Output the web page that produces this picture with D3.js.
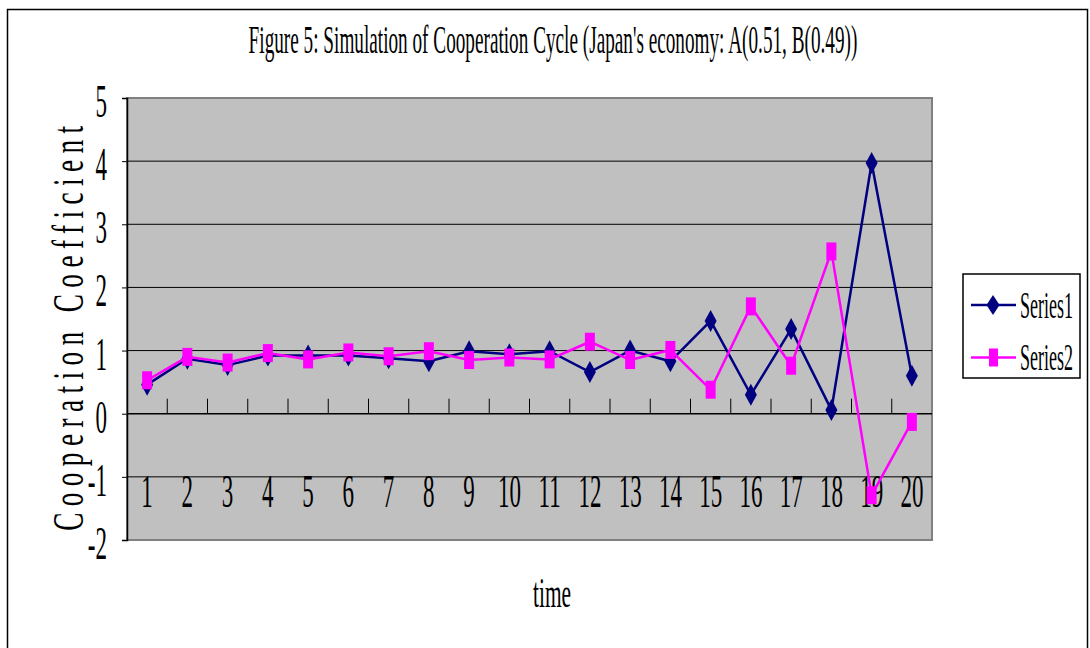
<!DOCTYPE html>
<html>
<head>
<meta charset="utf-8">
<script src="https://cdn.jsdelivr.net/npm/d3@7"></script>
<style>
  html, body { margin: 0; padding: 0; background: #fff; }
  svg { display: block; }
  text { font-family: "Liberation Serif", "Times New Roman", serif; fill: #000; }
</style>
</head>
<body>
<svg id="chart" width="1090" height="648"></svg>
<script>
const categories = ["1","2","3","4","5","6","7","8","9","10","11","12","13","14","15","16","17","18","19","20"];
const series1 = [0.46, 0.87, 0.77, 0.92, 0.92, 0.92, 0.88, 0.83, 0.99, 0.94, 0.99, 0.66, 1.00, 0.83, 1.47, 0.30, 1.34, 0.06, 3.97, 0.60];
const series2 = [0.53, 0.90, 0.81, 0.96, 0.86, 0.97, 0.91, 0.99, 0.85, 0.89, 0.86, 1.14, 0.85, 1.01, 0.38, 1.70, 0.76, 2.57, -1.29, -0.13];
const seriesNames = ["Series1", "Series2"];
const yTicks = [-2, -1, 0, 1, 2, 3, 4, 5];
const titleText = "Figure 5: Simulation of Cooperation Cycle (Japan's economy: A(0.51, B(0.49))";
const yTitle = "Cooperation Coefficient";
const xTitle = "time";

const svg = d3.select("#chart");
const plot = { left: 127, right: 932, top: 98, bottom: 540 };

const x = d3.scaleBand().domain(categories).range([plot.left, plot.right]);
const y = d3.scaleLinear().domain([-2, 5]).range([plot.bottom, plot.top]);

// place a text horizontally condensed so that it spans targetWidth
function fitText(sel, xPos, yPos, targetWidth, anchor) {
  const w = sel.node().getComputedTextLength();
  const k = targetWidth / w;
  sel.attr("text-anchor", anchor || "start")
     .attr("transform", `translate(${xPos},${yPos}) scale(${k},1)`);
  return sel;
}

// outer border
svg.append("rect").attr("x", 7.5).attr("y", 9.5).attr("width", 1080).attr("height", 700)
  .attr("fill", "none").attr("stroke", "#000").attr("stroke-width", 1.5);

// title
fitText(svg.append("text").attr("font-size", 39).text(titleText), 553, 53, 609, "middle");

// plot area
svg.append("rect").attr("x", plot.left).attr("y", plot.top)
  .attr("width", plot.right - plot.left).attr("height", plot.bottom - plot.top)
  .attr("fill", "#c0c0c0").attr("stroke", "#808080").attr("stroke-width", 2);

// gridlines
svg.append("g").selectAll("line").data(yTicks.filter(v => v !== 0 && v !== 5 && v !== -2)).join("line")
  .attr("x1", plot.left).attr("x2", plot.right)
  .attr("y1", d => y(d)).attr("y2", d => y(d))
  .attr("stroke", "#000").attr("stroke-width", 1);

// y axis
const yAxis = d3.axisLeft(y).tickValues(yTicks).tickSize(5).tickFormat("");
const gy = svg.append("g").attr("transform", `translate(${plot.left},0)`).call(yAxis);
gy.select(".domain").attr("stroke", "#000").attr("stroke-width", 1.5);
gy.selectAll(".tick line").attr("stroke", "#000").attr("stroke-width", 1);

// y tick labels (condensed)
svg.append("g").selectAll("text").data(yTicks).join("text")
  .attr("transform", d => `translate(107,${y(d) + 19}) scale(0.5,1)`)
  .attr("text-anchor", "end").attr("font-size", 46)
  .text(d => String(d));

// x axis line at 0
svg.append("line").attr("x1", plot.left).attr("x2", plot.right)
  .attr("y1", y(0)).attr("y2", y(0)).attr("stroke", "#000").attr("stroke-width", 1.5);

// x ticks between categories, pointing up
const boundaries = categories.map(c => x(c) + x.bandwidth()).slice(0, -1);
svg.append("g").selectAll("line").data(boundaries).join("line")
  .attr("x1", d => d).attr("x2", d => d)
  .attr("y1", y(0)).attr("y2", y(0) - 15)
  .attr("stroke", "#000").attr("stroke-width", 1);

// x tick labels
svg.append("g").selectAll("text").data(categories).join("text")
  .attr("transform", d => `translate(${x(d) + x.bandwidth() / 2},507) scale(0.5,1)`)
  .attr("text-anchor", "middle").attr("font-size", 46)
  .text(d => d);

// y axis title: glyphs condensed along the text direction, wide letter spacing
const yt = svg.append("text").attr("font-size", 44).attr("letter-spacing", 0).text(yTitle);
{
  const k = 0.62;
  const n = yTitle.length;
  const natural = yt.node().getComputedTextLength();
  const spacing = (405 / k - natural) / (n - 1);
  yt.attr("letter-spacing", spacing).attr("text-anchor", "middle")
    .attr("transform", `translate(83,${322 + spacing * k / 2}) rotate(-90) scale(${k},1)`);
}

// x axis title
fitText(svg.append("text").attr("font-size", 42).text(xTitle), 552, 607, 38, "middle");

// series
const cx = d => x(d) + x.bandwidth() / 2;
const line = d3.line().x((d, i) => cx(categories[i])).y(d => y(d));
const diamond = "M0,-11L6,0L0,11L-6,0Z";

const g1 = svg.append("g");
g1.append("path").datum(series1).attr("d", line)
  .attr("fill", "none").attr("stroke", "#000080").attr("stroke-width", 2.5);
g1.selectAll("path.m").data(series1).join("path").attr("class", "m")
  .attr("d", diamond)
  .attr("transform", (d, i) => `translate(${cx(categories[i])},${y(d)})`)
  .attr("fill", "#000080");

const g2 = svg.append("g");
g2.append("path").datum(series2).attr("d", line)
  .attr("fill", "none").attr("stroke", "#ff00ff").attr("stroke-width", 2.5);
g2.selectAll("rect").data(series2).join("rect")
  .attr("x", (d, i) => cx(categories[i]) - 5).attr("y", d => y(d) - 9)
  .attr("width", 10).attr("height", 18)
  .attr("fill", "#ff00ff");

// legend
const lg = svg.append("g");
lg.append("rect").attr("x", 963).attr("y", 274).attr("width", 117).attr("height", 104)
  .attr("fill", "#fff").attr("stroke", "#000").attr("stroke-width", 1.5);
const legendY = [305, 357.5];
const legendBase = [318, 370];
const colors = ["#000080", "#ff00ff"];
seriesNames.forEach((name, i) => {
  lg.append("line").attr("x1", 971).attr("x2", 1016).attr("y1", legendY[i]).attr("y2", legendY[i])
    .attr("stroke", colors[i]).attr("stroke-width", 2.5);
  if (i === 0) {
    lg.append("path").attr("d", "M0,-10L6.5,0L0,10L-6.5,0Z")
      .attr("transform", `translate(993,${legendY[i]})`).attr("fill", colors[i]);
  } else {
    lg.append("rect").attr("x", 989).attr("y", legendY[i] - 9).attr("width", 9).attr("height", 18)
      .attr("fill", colors[i]);
  }
  fitText(lg.append("text").attr("font-size", 38).text(name), 1020, legendBase[i], 53, "start");
});
</script>
</body>
</html>
